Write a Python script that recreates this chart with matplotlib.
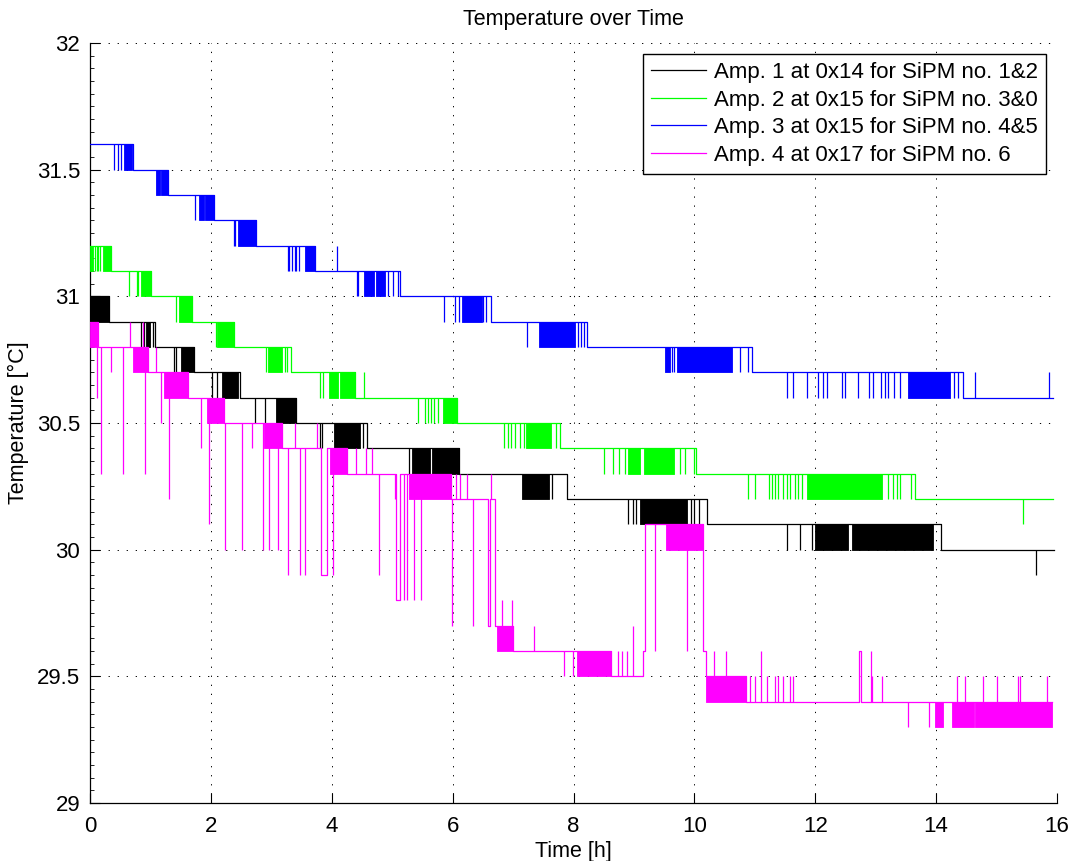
import numpy as np
import matplotlib
matplotlib.use("Agg")
import matplotlib.pyplot as plt
from matplotlib.ticker import MultipleLocator

# Each series: base level steps (time in h, temperature in degC),
# isolated excursions (time, level reached) and dense flicker regions
# (start, end, lower level, upper level).

amp1_t = [0, 0.31, 1.07, 1.72, 2.48, 3.41, 4.58, 6.11, 7.89, 10.21, 14.08]
amp1_y = [31.0, 30.9, 30.8, 30.7, 30.6, 30.5, 30.4, 30.3, 30.2, 30.1, 30.0]
amp1_end = 15.95
amp1_spikes = [(0.85, 30.8), (0.90, 30.8), (1.04, 30.8), (1.39, 30.7), (1.43, 30.7),
               (2.02, 30.6), (2.10, 30.6), (2.48, 30.6), (2.73, 30.5), (2.90, 30.5),
               (3.80, 30.4), (3.84, 30.4), (4.52, 30.4), (5.28, 30.3), (7.65, 30.2),
               (8.91, 30.1), (8.99, 30.1), (9.04, 30.1), (9.94, 30.1), (9.99, 30.1),
               (10.08, 30.1), (11.54, 30.0), (11.74, 30.0), (11.94, 30.0), (15.66, 29.9)]
amp1_bands = [(0.0, 0.31, 30.9, 31.0), (0.92, 0.99, 30.8, 30.9), (1.50, 1.72, 30.7, 30.8),
              (2.19, 2.45, 30.6, 30.7), (3.08, 3.41, 30.5, 30.6), (4.04, 4.46, 30.4, 30.5),
              (5.32, 5.62, 30.3, 30.4), (5.66, 6.11, 30.3, 30.4), (7.15, 7.59, 30.2, 30.3),
              (9.10, 9.87, 30.1, 30.2), (12.00, 12.55, 30.0, 30.1), (12.60, 13.95, 30.0, 30.1)]

amp2_t = [0, 0.34, 1.01, 1.68, 2.38, 3.32, 4.38, 6.08, 7.77, 10.02, 13.65]
amp2_y = [31.2, 31.1, 31.0, 30.9, 30.8, 30.7, 30.6, 30.5, 30.4, 30.3, 30.2]
amp2_end = 15.93
amp2_spikes = [(0.08, 31.1), (0.11, 31.1), (0.14, 31.1), (0.17, 31.1), (0.65, 31.0),
               (0.78, 31.0), (0.80, 31.0), (1.43, 30.9), (2.09, 30.8), (2.92, 30.7),
               (3.23, 30.7), (3.26, 30.7), (3.81, 30.6), (3.85, 30.6), (4.54, 30.7),
               (5.43, 30.5), (5.55, 30.5), (5.59, 30.5), (5.65, 30.5), (5.70, 30.5),
               (5.76, 30.5), (6.85, 30.4), (6.91, 30.4), (6.97, 30.4), (7.03, 30.4),
               (7.12, 30.4), (7.18, 30.4), (7.71, 30.4), (8.50, 30.3), (8.66, 30.3),
               (8.75, 30.3), (8.86, 30.3), (9.76, 30.3), (9.85, 30.3), (10.00, 30.3),
               (10.88, 30.2), (11.01, 30.2), (11.23, 30.2), (11.28, 30.2), (11.33, 30.2),
               (11.39, 30.2), (11.47, 30.2), (11.53, 30.2), (11.58, 30.2), (11.67, 30.2),
               (11.72, 30.2), (11.78, 30.2), (13.21, 30.2), (13.28, 30.2), (13.35, 30.2),
               (13.41, 30.2), (13.58, 30.2), (15.43, 30.1)]
amp2_bands = [(0.0, 0.05, 31.1, 31.2), (0.21, 0.34, 31.1, 31.2), (0.84, 1.01, 31.0, 31.1),
              (1.48, 1.68, 30.9, 31.0), (2.10, 2.38, 30.8, 30.9), (2.95, 3.18, 30.7, 30.8),
              (3.95, 4.10, 30.6, 30.7), (4.14, 4.38, 30.6, 30.7), (5.84, 6.08, 30.5, 30.6),
              (7.21, 7.62, 30.4, 30.5), (8.90, 9.10, 30.3, 30.4), (9.17, 9.67, 30.3, 30.4),
              (11.86, 13.10, 30.2, 30.3)]

amp3_t = [0, 0.71, 1.29, 2.05, 2.74, 3.72, 5.13, 6.64, 8.22, 10.96, 14.44]
amp3_y = [31.6, 31.5, 31.4, 31.3, 31.2, 31.1, 31.0, 30.9, 30.8, 30.7, 30.6]
amp3_end = 15.93
amp3_spikes = [(0.40, 31.5), (0.47, 31.5), (0.51, 31.5), (1.74, 31.3), (2.38, 31.2),
               (2.40, 31.2), (3.28, 31.1), (3.30, 31.1), (3.34, 31.1), (3.39, 31.1),
               (3.41, 31.1), (3.45, 31.1), (4.08, 31.2), (4.41, 31.0), (4.43, 31.0),
               (4.93, 31.0), (5.01, 31.0), (5.10, 31.0), (5.86, 30.9), (6.04, 30.9),
               (6.10, 30.9), (6.51, 30.9), (6.56, 30.9), (7.23, 30.8), (8.07, 30.8),
               (8.13, 30.8), (8.18, 30.8), (9.63, 30.7), (9.67, 30.7), (10.76, 30.7),
               (10.89, 30.7), (11.53, 30.6), (11.64, 30.6), (11.86, 30.6), (12.04, 30.6),
               (12.12, 30.6), (12.20, 30.6), (12.44, 30.6), (12.49, 30.6), (12.70, 30.6),
               (12.89, 30.6), (12.95, 30.6), (13.08, 30.6), (13.15, 30.6), (13.21, 30.6),
               (13.30, 30.6), (13.41, 30.6), (14.29, 30.6), (14.36, 30.6), (14.65, 30.7),
               (15.86, 30.7)]
amp3_bands = [(0.56, 0.70, 31.5, 31.6), (1.10, 1.15, 31.4, 31.5), (1.18, 1.29, 31.4, 31.5),
              (1.81, 1.88, 31.3, 31.4), (1.90, 2.05, 31.3, 31.4), (2.45, 2.74, 31.2, 31.3),
              (3.55, 3.72, 31.1, 31.2), (4.53, 4.70, 31.0, 31.1), (4.73, 4.88, 31.0, 31.1),
              (6.15, 6.48, 30.9, 31.0), (7.43, 8.02, 30.8, 30.9), (9.52, 9.60, 30.7, 30.8),
              (9.72, 10.63, 30.7, 30.8), (13.54, 14.23, 30.6, 30.7)]

amp4_t = [0, 0.14, 0.96, 1.62, 2.22, 3.18, 3.82, 3.92, 4.25, 5.07, 5.13, 5.98, 6.58,
          6.62, 6.70, 7.00, 8.62, 9.15, 9.18, 10.15, 10.19, 10.86, 12.72, 12.76]
amp4_y = [30.9, 30.8, 30.7, 30.6, 30.5, 30.4, 29.9, 30.4, 30.3, 29.8, 30.3, 30.2, 29.7,
          30.2, 29.7, 29.6, 29.5, 29.6, 30.1, 29.6, 29.5, 29.4, 29.6, 29.4]
amp4_end = 15.92
amp4_spikes = [(0.11, 30.6), (0.18, 30.3), (0.35, 30.7), (0.55, 30.3), (0.66, 30.9),
               (0.87, 30.9), (0.91, 30.3), (1.09, 30.8), (1.18, 30.5), (1.30, 30.2),
               (1.84, 30.4), (1.97, 30.1), (2.24, 30.0), (2.51, 30.0), (2.68, 30.4),
               (2.87, 30.0), (2.97, 30.0), (3.11, 30.0), (3.27, 29.9), (3.40, 30.5),
               (3.48, 29.9), (3.56, 29.9), (3.75, 30.5), (4.02, 29.9), (4.40, 30.4),
               (4.56, 30.4), (4.67, 30.4), (4.79, 29.9), (5.04, 30.2), (5.19, 29.8),
               (5.24, 29.8), (5.36, 29.8), (5.48, 29.8), (5.99, 29.7), (6.06, 30.3),
               (6.12, 30.3), (6.24, 30.3), (6.33, 29.7), (6.64, 30.3), (6.82, 29.8),
               (6.98, 29.8), (7.35, 29.7), (7.85, 29.5), (7.99, 29.5), (8.74, 29.6),
               (8.80, 29.6), (8.88, 29.6), (8.99, 29.7), (9.35, 29.6), (9.87, 29.6),
               (10.32, 29.6), (10.52, 29.6), (10.92, 29.5), (11.00, 29.5), (11.10, 29.6),
               (11.20, 29.5), (11.33, 29.5), (11.39, 29.5), (11.47, 29.5), (11.59, 29.5),
               (11.64, 29.5), (12.92, 29.6), (12.94, 29.5), (13.10, 29.5), (13.54, 29.3),
               (13.88, 29.3), (14.35, 29.5), (14.48, 29.5), (14.78, 29.5), (15.01, 29.5),
               (15.36, 29.5), (15.39, 29.5), (15.83, 29.5)]
amp4_bands = [(0.0, 0.14, 30.8, 30.9), (0.71, 0.96, 30.7, 30.8), (1.22, 1.62, 30.6, 30.7),
              (1.93, 2.22, 30.5, 30.6), (2.88, 3.18, 30.4, 30.5), (3.97, 4.25, 30.3, 30.4),
              (5.27, 5.98, 30.2, 30.3), (6.73, 7.00, 29.6, 29.7), (8.05, 8.62, 29.5, 29.6),
              (9.53, 10.15, 30.0, 30.1), (10.19, 10.86, 29.4, 29.5), (13.98, 14.12, 29.3, 29.4),
              (14.26, 14.62, 29.3, 29.4), (14.64, 15.92, 29.3, 29.4)]

labels = ["Amp. 1 at 0x14 for SiPM no. 1&2", "Amp. 2 at 0x15 for SiPM no. 3&0",
          "Amp. 3 at 0x15 for SiPM no. 4&5", "Amp. 4 at 0x17 for SiPM no. 6"]
colors = ["#000000", "#00ff00", "#0000ff", "#ff00ff"]

plt.rcParams["font.family"] = ["Liberation Sans", "DejaVu Sans"]


def draw(ax, t, y, t_end, spikes, bands, color, label, z):
    ax.step(t + [t_end], y + [y[-1]], where="post", color=color, lw=0.9,
            label=label, zorder=z)
    for t0, t1, lo, hi in bands:
        ax.fill_between([t0, t1], lo, hi, color=color, lw=0.6, zorder=z)
    st = np.array([s[0] for s in spikes])
    base = np.array(y)[np.searchsorted(t, st, side="right") - 1]
    ax.vlines(st, base, [s[1] for s in spikes], color=color, lw=0.9, zorder=z)


fig = plt.figure(figsize=(10.69, 8.61), dpi=100)
ax = fig.add_axes([90 / 1069, 58 / 861, 967 / 1069, 760 / 861])

series = [(amp1_t, amp1_y, amp1_end, amp1_spikes, amp1_bands),
          (amp2_t, amp2_y, amp2_end, amp2_spikes, amp2_bands),
          (amp3_t, amp3_y, amp3_end, amp3_spikes, amp3_bands),
          (amp4_t, amp4_y, amp4_end, amp4_spikes, amp4_bands)]
for i, (t, y, te, sp, bd) in enumerate(series):
    draw(ax, t, y, te, sp, bd, colors[i], labels[i], 3 + i)

ax.set_xlim(0, 16)
ax.set_ylim(29, 32)
ax.xaxis.set_major_locator(MultipleLocator(2))
ax.yaxis.set_major_locator(MultipleLocator(0.5))
ax.yaxis.set_minor_locator(MultipleLocator(0.05))
ax.yaxis.set_major_formatter(plt.FuncFormatter(lambda v, p: f"{v:g}"))
ax.tick_params(which="major", direction="in", length=7, width=0.8, labelsize=16, pad=7)
ax.tick_params(which="minor", direction="in", length=3, width=0.6)
ax.tick_params(axis="x", pad=9)
ax.grid(True, which="major", color="k", lw=0.7, linestyle=(0, (1.3, 8)))
for s in ["top", "right"]:
    ax.spines[s].set_visible(False)
for s in ["left", "bottom"]:
    ax.spines[s].set_linewidth(0.9)

ax.set_title("Temperature over Time", fontsize=15.5, pad=13)
ax.set_xlabel("Time [h]", fontsize=15.5, labelpad=3)
ax.set_ylabel("Temperature [°C]", fontsize=15.5, labelpad=6)

leg = ax.legend(loc="upper right", fontsize=16, fancybox=False, framealpha=1,
                edgecolor="k", handlelength=2.5, borderaxespad=0.5,
                labelspacing=0.3, handletextpad=0.35, borderpad=0.35)
leg.get_frame().set_linewidth(1.0)

fig.savefig("out.png", dpi=100)
